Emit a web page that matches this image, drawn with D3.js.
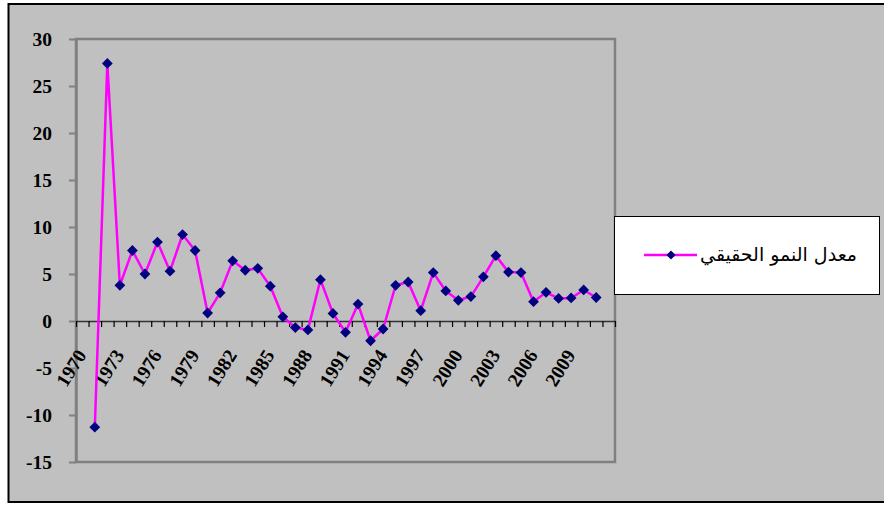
<!DOCTYPE html>
<html>
<head>
<meta charset="utf-8">
<script src="https://cdn.jsdelivr.net/npm/d3@7/dist/d3.min.js"></script>
<style>
  html, body { margin: 0; padding: 0; background: #ffffff; }
  svg { display: block; }
</style>
</head>
<body>
<svg id="chart" width="884" height="505"></svg>
<script>
// Years on the category axis (1970 and 2012 carry no value)
const years = [1970, 1971, 1972, 1973, 1974, 1975, 1976, 1977, 1978, 1979,
  1980, 1981, 1982, 1983, 1984, 1985, 1986, 1987, 1988, 1989,
  1990, 1991, 1992, 1993, 1994, 1995, 1996, 1997, 1998, 1999,
  2000, 2001, 2002, 2003, 2004, 2005, 2006, 2007, 2008, 2009,
  2010, 2011, 2012];

// Real growth rate (%)
const growthRate = [null, -11.3, 27.4, 3.8, 7.5, 5.0, 8.4, 5.3, 9.2, 7.5,
  0.85, 3.0, 6.4, 5.4, 5.6, 3.7, 0.45, -0.7, -0.95, 4.4,
  0.8, -1.2, 1.8, -2.1, -0.85, 3.8, 4.15, 1.1, 5.15, 3.2,
  2.2, 2.6, 4.7, 6.95, 5.2, 5.15, 2.05, 3.05, 2.4, 2.45,
  3.3, 2.5, null];

const xTickLabels = ['1970', '1973', '1976', '1979', '1982', '1985', '1988',
  '1991', '1994', '1997', '2000', '2003', '2006', '2009'];
const yTicks = [-15, -10, -5, 0, 5, 10, 15, 20, 25, 30];
const seriesName = 'معدل النمو الحقيقي';

const svg = d3.select('#chart');
const plot = { left: 76, right: 615, top: 39, bottom: 462 };
const numFont = 'Liberation Serif, Times New Roman, DejaVu Serif, serif';

// Chart area background and frame
svg.append('rect')
  .attr('x', 8.5).attr('y', 4).attr('width', 900).attr('height', 498)
  .attr('fill', '#c0c0c0').attr('stroke', '#000').attr('stroke-width', 2);

const x = d3.scaleBand().domain(years).range([plot.left, plot.right]).padding(0);
const y = d3.scaleLinear().domain([-15, 30]).range([plot.bottom, plot.top]);

// Plot area frame
svg.append('rect')
  .attr('x', plot.left).attr('y', plot.top)
  .attr('width', plot.right - plot.left).attr('height', plot.bottom - plot.top)
  .attr('fill', '#c0c0c0').attr('stroke', '#808080').attr('stroke-width', 2.5);

// Value axis
const yAxis = svg.append('g')
  .attr('transform', `translate(${plot.left},0)`)
  .call(d3.axisLeft(y).tickValues(yTicks).tickSize(7).tickSizeOuter(0)
    .tickPadding(17).tickFormat(d => String(d)));
yAxis.select('.domain').attr('stroke', '#808080').attr('stroke-width', 2.5);
yAxis.selectAll('.tick line').attr('stroke', '#808080').attr('stroke-width', 2);
yAxis.selectAll('.tick text')
  .attr('font-family', numFont).attr('font-size', 19.5).attr('font-weight', 'bold')
  .attr('fill', '#000').attr('dy', '0.34em');

// Category axis crossing at zero, ticks on category boundaries
const boundary = d3.scaleLinear().domain([0, years.length]).range([plot.left, plot.right]);
const xAxis = svg.append('g')
  .attr('transform', `translate(0,${y(0)})`)
  .call(d3.axisBottom(boundary).tickValues(d3.range(0, years.length + 1))
    .tickSize(6).tickSizeOuter(0).tickFormat(''));
xAxis.select('.domain').attr('stroke', '#333').attr('stroke-width', 1.5);
xAxis.selectAll('.tick line').attr('stroke', '#000').attr('stroke-width', 1.2);

// Rotated year labels
svg.append('g').selectAll('text')
  .data(xTickLabels)
  .join('text')
  .attr('transform', d => `translate(${x(+d) + x.bandwidth() / 2 + 5},${y(0) + 34}) rotate(-58)`)
  .attr('text-anchor', 'end')
  .attr('font-family', numFont).attr('font-size', 19.5).attr('font-weight', 'bold')
  .attr('fill', '#000')
  .text(d => d);

// Series line and markers
const pts = years.map((yr, i) => ({ year: yr, v: growthRate[i] }));
const line = d3.line()
  .defined(d => d.v !== null)
  .x(d => x(d.year) + x.bandwidth() / 2)
  .y(d => y(d.v));

svg.append('path')
  .datum(pts)
  .attr('d', line)
  .attr('fill', 'none').attr('stroke', '#ff00ff').attr('stroke-width', 2.5)
  .attr('stroke-linejoin', 'round');

const diamond = d3.symbol().type(d3.symbolSquare).size(58);
svg.append('g').selectAll('path')
  .data(pts.filter(d => d.v !== null))
  .join('path')
  .attr('d', diamond)
  .attr('transform', d => `translate(${x(d.year) + x.bandwidth() / 2},${y(d.v)}) rotate(45)`)
  .attr('fill', '#000080');

// Legend
const legend = svg.append('g');
legend.append('rect')
  .attr('x', 614.5).attr('y', 216.5).attr('width', 265).attr('height', 78)
  .attr('fill', '#fff').attr('stroke', '#000').attr('stroke-width', 1);
legend.append('line')
  .attr('x1', 644).attr('x2', 697).attr('y1', 255).attr('y2', 255)
  .attr('stroke', '#ff00ff').attr('stroke-width', 2.5);
legend.append('path')
  .attr('d', d3.symbol().type(d3.symbolSquare).size(42))
  .attr('transform', 'translate(671,255) rotate(45)')
  .attr('fill', '#000080');
legend.append('text')
  .attr('x', 857).attr('y', 261)
  .attr('text-anchor', 'end')
  .attr('font-family', 'DejaVu Sans, Noto Sans, sans-serif')
  .attr('font-size', 19)
  .attr('fill', '#000')
  .text(seriesName);
</script>
</body>
</html>
